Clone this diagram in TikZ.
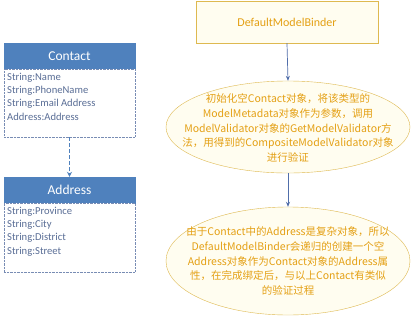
\documentclass[tikz,border=0pt]{standalone}
\usepackage{fontspec}
\setmainfont{Carlito}
\newfontfamily\cjk{Noto Sans CJK SC}
\usetikzlibrary{arrows.meta}
\definecolor{hdrblue}{RGB}{79,129,189}
\definecolor{bodytxt}{RGB}{90,110,150}
\definecolor{bodyline}{RGB}{120,140,180}
\definecolor{goldtxt}{RGB}{228,160,20}
\definecolor{goldline}{RGB}{222,185,80}
\definecolor{lightfill}{RGB}{255,253,240}
\definecolor{arrowblue}{RGB}{80,110,170}
\tikzset{
  hdr/.style={draw=hdrblue, fill=hdrblue, text=white, minimum width=131pt, minimum height=26pt, inner sep=0pt, font=\fontsize{13.5}{15}\selectfont},
  bodybox/.style={draw=bodyline, densely dotted, fill=white, minimum width=131pt, inner sep=0pt},
  bodytext/.style={anchor=north west, align=left, text=bodytxt, inner sep=0pt, font=\fontsize{10.6}{13.2}\selectfont},
  goldbox/.style={draw=goldline, fill=lightfill, text=goldtxt, inner sep=0pt, font=\fontsize{12}{14}\selectfont},
  ell/.style={draw=goldline, fill=lightfill, ellipse, inner sep=0pt},
  elltext/.style={text=goldtxt, align=center, inner sep=0pt, font=\cjk\fontsize{10.5}{14.7}\selectfont},
  flow/.style={draw=arrowblue, line width=0.7pt, -{Stealth[length=5pt,width=4pt]}},
  dflow/.style={draw=hdrblue, line width=1.8pt, dashed, dash pattern=on 4pt off 2pt, -{Stealth[length=5pt,width=5pt]}}
}
\usetikzlibrary{shapes.geometric}
\begin{document}
\begin{tikzpicture}[x=1pt,y=-1pt]
\path[use as bounding box, fill=white] (0,0) rectangle (413,317);
% Contact
\node[hdr] (chdr) at (69.5,56) {Contact};
\node[bodybox, minimum height=68pt] (cbody) at (69.5,103) {};
\node[bodytext] (ctext) at (7,73) {String:Name\\String:PhoneName\\String:Email Address\\Address:Address};
% Address
\node[hdr] (ahdr) at (69.5,190) {Address};
\node[bodybox, minimum height=69pt] (abody) at (69.5,237.5) {};
\node[bodytext] (atext) at (7,207) {String:Province\\String:City\\String:District\\String:Street};
\draw[dflow] (cbody.south) -- (ahdr.north);
% Right side
\node[goldbox, minimum width=182pt, minimum height=42pt] (dmb) at (287,22) {DefaultModelBinder};
\node[ell, minimum width=244pt, minimum height=92pt] (e1) at (288,127) {};
\node[elltext] (t1) at (288,128) {初始化空Contact对象，将该类型的\\ModelMetadata对象作为参数，调用\\ModelValidator对象的GetModelValidator方\\法，用得到的CompositeModelValidator对象\\进行验证};
\node[ell, minimum width=244pt, minimum height=108pt] (e2) at (288,261) {};
\node[elltext] (t2) at (288,261) {由于Contact中的Address是复杂对象，所以\\DefaultModelBinder会递归的创建一个空\\Address对象作为Contact对象的Address属\\性，在完成绑定后，与以上Contact有类似\\的验证过程};
\draw[flow] (dmb.south) -- (e1.north);
\draw[flow] (e1.south) -- (e2.north);
\end{tikzpicture}
\end{document}
